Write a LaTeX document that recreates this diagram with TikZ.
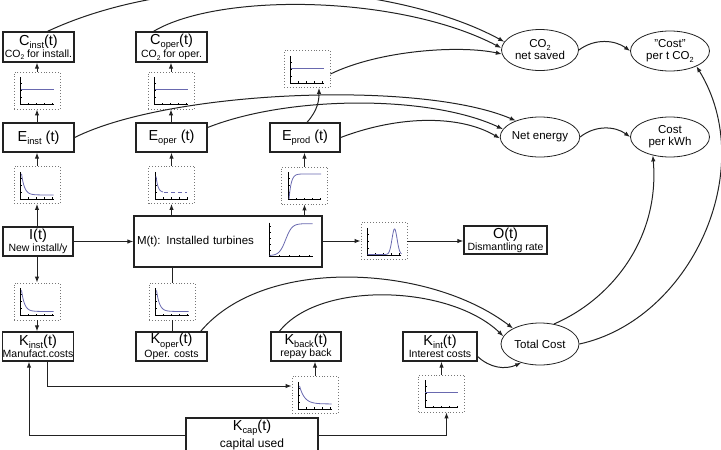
\documentclass[tikz,border=0pt]{standalone}
\usepackage{fontspec}
\setmainfont{Liberation Sans}
\usepackage{graphicx}
\usetikzlibrary{arrows.meta,shapes.geometric}

\definecolor{ink}{HTML}{222222}
\definecolor{curvec}{RGB}{105,105,175}
\definecolor{dotc}{HTML}{777777}

% lowered, reduced text for indices
\newcommand\lo[1]{\raisebox{-0.22em}{\scalebox{0.64}{#1}}}
\newcommand\bigf{\fontsize{14.5}{12}\selectfont}
\newcommand\smallf{\fontsize{10.5}{12}\selectfont}
\newcommand\ellf{\fontsize{11.5}{12}\selectfont}

\tikzset{
  box/.style={draw=ink, line width=1.3pt, inner sep=0pt, align=center, font=\bigf},
  oval/.style={ellipse, draw=ink, line width=0.8pt, inner sep=0pt, align=center, font=\ellf},
  gbox/.style={draw=dotc, dotted, line width=0.9pt, minimum width=46pt, minimum height=37pt, inner sep=0pt},
  axis/.style={draw=black, line width=0.6pt},
  crv/.style={draw=curvec, line width=0.8pt},
  link/.style={draw=ink, line width=1pt},
  arr/.style={link, -{Latex[length=6pt,width=4.5pt]}},
}

% small time-series plot in a dotted frame: name, position, curve
\newcommand\plotbox[3]{%
  \node[gbox] (#1) at (#2) {};
  \begin{scope}[shift={(#1.south west)}, x=1pt, y=1pt]
    \draw[axis] (7,32) -- (7,5) -- (40,5);
    \foreach \tk in {15,23,31,39} \draw[axis, line width=.4pt] (\tk,5) -- (\tk,6.5);
    \foreach \tk in {12,19,26} \draw[axis, line width=.4pt] (7,\tk) -- (8.5,\tk);
    #3
  \end{scope}}
\newcommand\flatc{\draw[crv] (7,20) -- (40,20);}
\newcommand\decayc{\draw[crv] plot[smooth, domain=0:32, samples=50] ({8+\x},{9+21*exp(-\x/3)});}
\newcommand\slowdecayc{\draw[crv] plot[smooth, domain=0:32, samples=50] ({8+\x},{10+18*exp(-\x/5)});}
\newcommand\risec{\draw[crv] plot[smooth, domain=0:32, samples=50] ({8+\x},{5.5+25*(1-exp(-\x/2.2))});}

\begin{document}
\begin{tikzpicture}[x=1pt, y=-1pt]
\useasboundingbox (0,0) rectangle (721,450);

% ---- boxes ----
\node[box, minimum width=71pt, minimum height=30pt] (cinst) at (38.5,47) {C\lo{inst}(t)\\{\smallf CO\lo{2} for install.}};
\node[box, minimum width=71pt, minimum height=30pt] (coper) at (171.5,47) {C\lo{oper}(t)\\{\smallf CO\lo{2} for oper.}};
\node[box, minimum width=71pt, minimum height=29pt] (einst) at (38.5,137.5) {E\lo{inst} (t)};
\node[box, minimum width=71pt, minimum height=29pt] (eoper) at (171.5,137.5) {E\lo{oper} (t)};
\node[box, minimum width=70pt, minimum height=29pt] (eprod) at (305,137.5) {E\lo{prod} (t)};
\node[box, minimum width=70pt, minimum height=29pt] (iit) at (38,241.5) {I(t)\\{\smallf New install/y}};
\node[box, minimum height=51pt, text width=182pt, inner xsep=3pt, align=left, font=\fontsize{11.5}{13}\selectfont] (m) at (228,241.5) {M(t): Installed turbines};
\node[box, minimum width=83pt, minimum height=28pt] (o) at (505.5,240) {O(t)\\{\smallf Dismantling rate}};
\node[box, minimum width=70pt, minimum height=29pt] (kinst) at (38,346.5) {K\lo{inst}(t)\\{\smallf Manufact.costs}};
\node[box, minimum width=71pt, minimum height=29pt] (koper) at (171.5,346.5) {K\lo{oper}(t)\\{\smallf Oper. costs}};
\node[box, minimum width=70pt, minimum height=29pt] (kback) at (306,346.5) {K\lo{back}(t)\\{\smallf repay back}};
\node[box, minimum width=74pt, minimum height=29pt] (kint) at (440,346.5) {K\lo{int}(t)\\{\smallf Interest costs}};
\node[box, minimum width=132pt, minimum height=34pt] (kcap) at (252,435) {K\lo{cap}(t)\\[2pt]{\fontsize{12}{12}\selectfont capital used}};

% ---- ellipses ----
\node[oval, minimum width=77pt, minimum height=41pt] (co2) at (540,50) {CO\lo{2}\\net saved};
\node[oval, minimum width=79pt, minimum height=40pt] (cpt) at (670,51) {"Cost"\\per t CO\lo{2}};
\node[oval, minimum width=78pt, minimum height=40pt] (ne) at (540,137) {Net energy};
\node[oval, minimum width=79pt, minimum height=40pt] (kwh) at (670,137) {Cost\\per kWh};
\node[oval, minimum width=78pt, minimum height=42pt] (tc) at (540,344) {Total Cost};

% ---- small plots ----
\plotbox{gci}{37,90.5}{\flatc}
\plotbox{gco}{171,90.5}{\flatc}
\plotbox{gpa}{307,69}{\flatc}
\plotbox{gei}{37,185}{\decayc}
\plotbox{geo}{171.5,185}{%
  \draw[crv] plot[smooth, domain=0:7, samples=20] ({8+\x},{11.5+16*exp(-\x/2)});
  \draw[crv, dash pattern=on 4pt off 3pt] (16,11.8) -- (39,11.8);}
\plotbox{gep}{304.5,185.5}{\risec}
\plotbox{gdm}{384,241}{\draw[crv] plot[smooth, domain=0:34, samples=80] ({7+\x},{5.5+25.5*exp(-((\x-27)/3.6)^2)});}
\plotbox{gki}{37,301.5}{\decayc}
\plotbox{gko}{172,301.5}{\decayc}
\plotbox{gkb}{315,395}{\slowdecayc}
\plotbox{gkt}{441.5,393.5}{\flatc}

% S-curve drawn inside the turbine box
\begin{scope}[shift={([shift={(-53pt,11pt)}]m.south east)}, x=1pt, y=1pt]
  \draw[axis] (0,34) -- (0,0) -- (43,0);
  \foreach \tk in {10,20,30,40} \draw[axis, line width=.4pt] (\tk,0) -- (\tk,1.5);
  \foreach \tk in {6,12,18,24,30} \draw[axis, line width=.4pt] (0,\tk) -- (1.5,\tk);
  \draw[crv] plot[smooth, domain=0:43, samples=60] (\x,{1+32/(1+exp(-(\x-16)/3.2))});
\end{scope}

% ---- straight connectors ----
\draw[arr] (gci.south |- einst.north) -- (gci.south);
\draw[arr] (gci.north) -- (gci.north |- cinst.south);
\draw[arr] (gco.south |- eoper.north) -- (gco.south);
\draw[arr] (gco.north) -- (gco.north |- coper.south);
\draw[arr] (gei.south |- iit.north) -- (gei.south);
\draw[arr] (gei.north) -- (gei.north |- einst.south);
\draw[arr] (geo.south |- m.north) -- (geo.south);
\draw[arr] (geo.north) -- (geo.north |- eoper.south);
\draw[arr] (gep.south |- m.north) -- (gep.south);
\draw[arr] (gep.north) -- (gep.north |- eprod.south);
\draw[arr] (gki.north |- iit.south) -- (gki.north);
\draw[arr] (gki.south) -- (gki.south |- kinst.north);
\draw[link] (gko.north |- m.south) -- (gko.north);
\draw[link] (gko.south) -- (gko.south |- koper.north);
\draw[arr] (gkb.north) -- (gkb.north |- kback.south);
\draw[arr] (gkt.north) -- (gkt.north |- kint.south);
\draw[arr] (iit.east) -- (iit.east -| m.west);
\draw[arr] (m.east |- gdm.west) -- (gdm.west);
\draw[arr] (gdm.east) -- (gdm.east -| o.west);
\draw[arr] (kcap.west) -| ([xshift=-9pt]kinst.south);
\draw[arr] (kcap.east) -| ([xshift=5pt]gkt.south);
\draw[arr] ([xshift=9pt]kinst.south) |- ([yshift=9pt]gkb.west);

% ---- curved connectors ----
\draw[arr] ([xshift=2pt]eprod.north) .. controls (318,110) and (319,100) .. ([xshift=12pt]gpa.south);
\draw[arr] ([xshift=9pt]cinst.north) .. controls (190,-35) and (400,-15) .. (co2.167);
\draw[arr] ([xshift=-18pt]coper.north) .. controls (220,-8) and (400,-5) .. (co2.177);
\draw[arr] ([yshift=-5pt]gpa.east) .. controls (380,50) and (460,45) .. (co2.186);
\draw[arr] (einst.east) .. controls (170,90) and (420,80) .. (ne.146);
\draw[arr] ([yshift=10pt]eoper.east) .. controls (290,95) and (430,95) .. (ne.168);
\draw[arr] (eprod.east) .. controls (400,115) and (460,115) .. (ne.182);
\draw[arr] (co2.east) .. controls (595,38) and (615,40) .. (cpt.west);
\draw[arr] (ne.east) .. controls (595,125) and (615,126) .. (kwh.west);
\draw[arr] (tc.55) .. controls (610,300) and (660,240) .. (kwh.227);
\draw[arr] (tc.east) .. controls (690,320) and (760,170) .. (cpt.-30);
\draw[arr] ([xshift=-7pt]koper.north east) .. controls (265,255) and (430,265) .. (tc.150);
\draw[arr] ([xshift=9pt]kback.north west) .. controls (320,280) and (450,285) .. (tc.168);
\draw[arr] ([yshift=-10pt]kint.east) .. controls (490,368) and (505,370) .. (tc.225);
\end{tikzpicture}
\end{document}
